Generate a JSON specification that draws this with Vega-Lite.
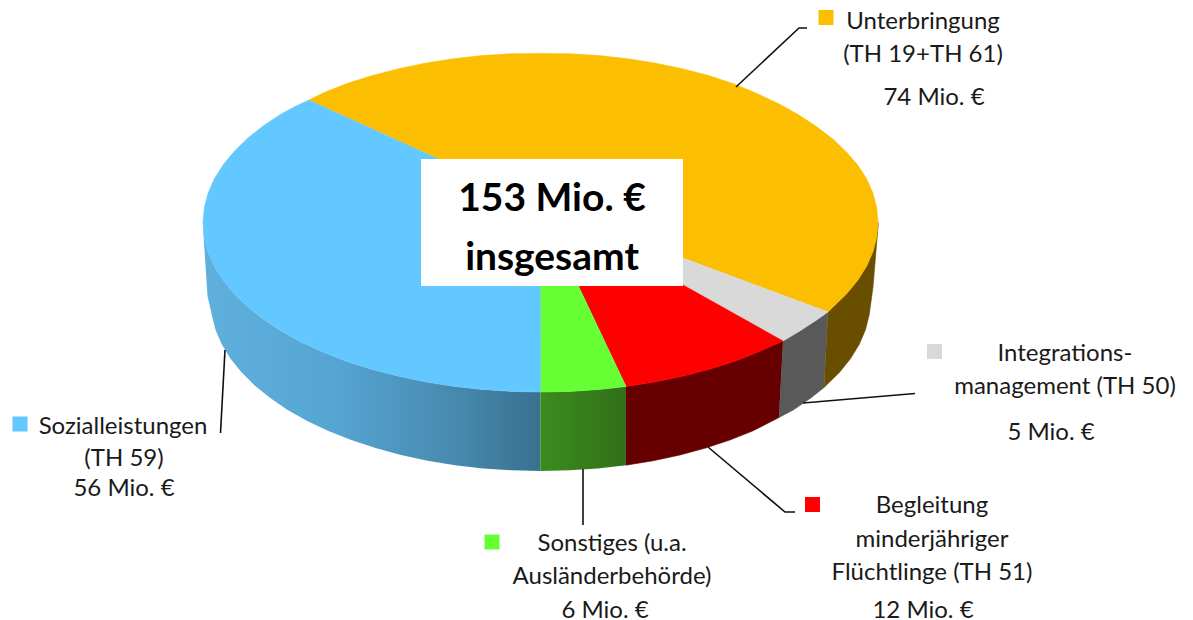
{"$schema":"https://vega.github.io/schema/vega-lite/v6.json","width":1193,"height":620,"padding":0,"autosize":{"type":"none"},"background":"white","config":{"view":{"stroke":null}},
"datasets":{"faces":[
{"face":"Soz Seite","x":540.5,"y":392},{"face":"Soz Seite","x":511.1,"y":391.4},{"face":"Soz Seite","x":481.9,"y":389.4},{"face":"Soz Seite","x":453.2,"y":386.2},{"face":"Soz Seite","x":425.1,"y":381.8},{"face":"Soz Seite","x":397.9,"y":376.1},{"face":"Soz Seite","x":371.7,"y":369.3},{"face":"Soz Seite","x":346.9,"y":361.4},{"face":"Soz Seite","x":323.6,"y":352.3},{"face":"Soz Seite","x":301.9,"y":342.4},{"face":"Soz Seite","x":282,"y":331.5},{"face":"Soz Seite","x":264,"y":319.7},{"face":"Soz Seite","x":248.2,"y":307.3},{"face":"Soz Seite","x":234.6,"y":294.1},{"face":"Soz Seite","x":223.4,"y":280.5},{"face":"Soz Seite","x":214.5,"y":266.4},{"face":"Soz Seite","x":208.1,"y":251.9},{"face":"Soz Seite","x":204.3,"y":237.3},{"face":"Soz Seite","x":203,"y":222.5},{"face":"Soz Seite","x":203,"y":227},{"face":"Soz Seite","x":207.5,"y":296},{"face":"Soz Seite","x":211.8,"y":314.9},{"face":"Soz Seite","x":215.5,"y":329.7},{"face":"Soz Seite","x":221.7,"y":344.3},{"face":"Soz Seite","x":230.4,"y":358.5},{"face":"Soz Seite","x":241.4,"y":372.3},{"face":"Soz Seite","x":254.7,"y":385.5},{"face":"Soz Seite","x":270.2,"y":398.1},{"face":"Soz Seite","x":287.7,"y":409.9},{"face":"Soz Seite","x":307.2,"y":420.9},{"face":"Soz Seite","x":328.4,"y":431},{"face":"Soz Seite","x":351.2,"y":440.1},{"face":"Soz Seite","x":375.5,"y":448.1},{"face":"Soz Seite","x":401,"y":455},{"face":"Soz Seite","x":427.6,"y":460.7},{"face":"Soz Seite","x":455.1,"y":465.2},{"face":"Soz Seite","x":483.2,"y":468.4},{"face":"Soz Seite","x":511.7,"y":470.3},{"face":"Soz Seite","x":540.5,"y":471},
{"face":"Son Seite","x":540.5,"y":392},{"face":"Son Seite","x":569.9,"y":391.4},{"face":"Son Seite","x":599.1,"y":389.4},{"face":"Son Seite","x":626,"y":386.5},{"face":"Son Seite","x":625.9,"y":465.2},{"face":"Son Seite","x":597.8,"y":468.4},{"face":"Son Seite","x":569.3,"y":470.3},{"face":"Son Seite","x":540.5,"y":471},
{"face":"Beg Seite","x":626,"y":386.5},{"face":"Beg Seite","x":655.9,"y":381.8},{"face":"Beg Seite","x":683.1,"y":376.1},{"face":"Beg Seite","x":709.3,"y":369.3},{"face":"Beg Seite","x":734.1,"y":361.4},{"face":"Beg Seite","x":757.4,"y":352.3},{"face":"Beg Seite","x":783,"y":341},{"face":"Beg Seite","x":779,"y":417.5},{"face":"Beg Seite","x":752.6,"y":431},{"face":"Beg Seite","x":729.8,"y":440.1},{"face":"Beg Seite","x":705.5,"y":448.1},{"face":"Beg Seite","x":680,"y":455},{"face":"Beg Seite","x":653.4,"y":460.7},{"face":"Beg Seite","x":625.9,"y":465.2},
{"face":"Int Seite","x":783,"y":341},{"face":"Int Seite","x":799,"y":331.5},{"face":"Int Seite","x":817,"y":319.7},{"face":"Int Seite","x":828,"y":312},{"face":"Int Seite","x":824,"y":387.5},{"face":"Int Seite","x":810.8,"y":398.1},{"face":"Int Seite","x":793.3,"y":409.9},{"face":"Int Seite","x":779,"y":417.5},
{"face":"Unt Seite","x":828,"y":312},{"face":"Unt Seite","x":832.8,"y":307.3},{"face":"Unt Seite","x":846.4,"y":294.1},{"face":"Unt Seite","x":857.6,"y":280.5},{"face":"Unt Seite","x":866.5,"y":266.4},{"face":"Unt Seite","x":872.9,"y":251.9},{"face":"Unt Seite","x":876.7,"y":237.3},{"face":"Unt Seite","x":878,"y":222.5},{"face":"Unt Seite","x":878,"y":227},{"face":"Unt Seite","x":873,"y":287},{"face":"Unt Seite","x":869.2,"y":314.9},{"face":"Unt Seite","x":865.5,"y":329.7},{"face":"Unt Seite","x":859.3,"y":344.3},{"face":"Unt Seite","x":850.6,"y":358.5},{"face":"Unt Seite","x":839.6,"y":372.3},{"face":"Unt Seite","x":824,"y":387.5},
{"face":"Unterbringung","x":540,"y":205},{"face":"Unterbringung","x":309,"y":100},{"face":"Unterbringung","x":323.6,"y":92.7},{"face":"Unterbringung","x":346.9,"y":83.6},{"face":"Unterbringung","x":371.7,"y":75.7},{"face":"Unterbringung","x":397.9,"y":68.9},{"face":"Unterbringung","x":425.1,"y":63.2},{"face":"Unterbringung","x":453.2,"y":58.8},{"face":"Unterbringung","x":481.9,"y":55.6},{"face":"Unterbringung","x":511.1,"y":53.8},{"face":"Unterbringung","x":540.5,"y":53.5},{"face":"Unterbringung","x":569.9,"y":53.8},{"face":"Unterbringung","x":599.1,"y":55.6},{"face":"Unterbringung","x":627.8,"y":58.8},{"face":"Unterbringung","x":655.9,"y":63.2},{"face":"Unterbringung","x":683.1,"y":68.9},{"face":"Unterbringung","x":709.3,"y":75.7},{"face":"Unterbringung","x":734.1,"y":84},{"face":"Unterbringung","x":757.4,"y":93.7},{"face":"Unterbringung","x":779.1,"y":104},{"face":"Unterbringung","x":799,"y":115},{"face":"Unterbringung","x":817,"y":127},{"face":"Unterbringung","x":832.8,"y":139},{"face":"Unterbringung","x":846.4,"y":151.9},{"face":"Unterbringung","x":857.6,"y":165},{"face":"Unterbringung","x":866.5,"y":178.6},{"face":"Unterbringung","x":872.9,"y":193.1},{"face":"Unterbringung","x":876.7,"y":207.7},{"face":"Unterbringung","x":878,"y":222.5},{"face":"Unterbringung","x":876.7,"y":237.3},{"face":"Unterbringung","x":872.9,"y":251.9},{"face":"Unterbringung","x":866.5,"y":266.4},{"face":"Unterbringung","x":857.6,"y":280.5},{"face":"Unterbringung","x":846.4,"y":294.1},{"face":"Unterbringung","x":832.8,"y":307.3},{"face":"Unterbringung","x":828,"y":312},
{"face":"Integration","x":540,"y":205},{"face":"Integration","x":828,"y":312},{"face":"Integration","x":817,"y":319.7},{"face":"Integration","x":799,"y":331.5},{"face":"Integration","x":783,"y":341},
{"face":"Begleitung","x":540,"y":205},{"face":"Begleitung","x":783,"y":341},{"face":"Begleitung","x":757.4,"y":352.3},{"face":"Begleitung","x":734.1,"y":361.4},{"face":"Begleitung","x":709.3,"y":369.3},{"face":"Begleitung","x":683.1,"y":376.1},{"face":"Begleitung","x":655.9,"y":381.8},{"face":"Begleitung","x":626,"y":386.5},
{"face":"Sonstiges","x":540,"y":205},{"face":"Sonstiges","x":626,"y":386.5},{"face":"Sonstiges","x":599.1,"y":389.4},{"face":"Sonstiges","x":569.9,"y":391.4},{"face":"Sonstiges","x":540.5,"y":392},
{"face":"Sozialleistungen","x":540,"y":205},{"face":"Sozialleistungen","x":540.5,"y":392},{"face":"Sozialleistungen","x":511.1,"y":391.4},{"face":"Sozialleistungen","x":481.9,"y":389.4},{"face":"Sozialleistungen","x":453.2,"y":386.2},{"face":"Sozialleistungen","x":425.1,"y":381.8},{"face":"Sozialleistungen","x":397.9,"y":376.1},{"face":"Sozialleistungen","x":371.7,"y":369.3},{"face":"Sozialleistungen","x":346.9,"y":361.4},{"face":"Sozialleistungen","x":323.6,"y":352.3},{"face":"Sozialleistungen","x":301.9,"y":342.4},{"face":"Sozialleistungen","x":282,"y":331.5},{"face":"Sozialleistungen","x":264,"y":319.7},{"face":"Sozialleistungen","x":248.2,"y":307.3},{"face":"Sozialleistungen","x":234.6,"y":294.1},{"face":"Sozialleistungen","x":223.4,"y":280.5},{"face":"Sozialleistungen","x":214.5,"y":266.4},{"face":"Sozialleistungen","x":208.1,"y":251.9},{"face":"Sozialleistungen","x":204.3,"y":237.3},{"face":"Sozialleistungen","x":203,"y":222.5},{"face":"Sozialleistungen","x":204.3,"y":207.7},{"face":"Sozialleistungen","x":208.1,"y":193.1},{"face":"Sozialleistungen","x":214.5,"y":178.6},{"face":"Sozialleistungen","x":223.4,"y":164.5},{"face":"Sozialleistungen","x":234.6,"y":150.9},{"face":"Sozialleistungen","x":248.2,"y":137.7},{"face":"Sozialleistungen","x":264,"y":125.3},{"face":"Sozialleistungen","x":282,"y":113.5},{"face":"Sozialleistungen","x":295,"y":106.5},{"face":"Sozialleistungen","x":309,"y":100}
],
"leaders":[
{"slice":"Unterbringung","x":736,"y":87},{"slice":"Unterbringung","x":799,"y":28},{"slice":"Unterbringung","x":807,"y":28},
{"slice":"Integration","x":803,"y":403},{"slice":"Integration","x":915,"y":393.5},
{"slice":"Begleitung","x":708,"y":447},{"slice":"Begleitung","x":785,"y":512},{"slice":"Begleitung","x":795,"y":512},
{"slice":"Sonstiges","x":583,"y":469},{"slice":"Sonstiges","x":583,"y":525},
{"slice":"Sozialleistungen","x":225,"y":350},{"slice":"Sozialleistungen","x":220.5,"y":433}
],
"squares":[
{"face":"Unterbringung","value":74,"x":826,"y":17.5},{"face":"Integration","value":5,"x":934.5,"y":351.5},{"face":"Begleitung","value":12,"x":812.5,"y":504.5},{"face":"Sonstiges","value":6,"x":492,"y":542},{"face":"Sozialleistungen","value":56,"x":20,"y":424}
],
"labels":[
{"t":"Unterbringung","x":923,"y":22},{"t":"(TH 19+TH 61)","x":923,"y":55},{"t":"74 Mio. €","x":934,"y":98},
{"t":"Integrations-","x":1065,"y":354},{"t":"management (TH 50)","x":1065,"y":387},{"t":"5 Mio. €","x":1051,"y":433},
{"t":"Begleitung","x":932,"y":506},{"t":"minderjähriger","x":932,"y":540},{"t":"Flüchtlinge (TH 51)","x":932,"y":573},{"t":"12 Mio. €","x":923,"y":611},
{"t":"Sonstiges (u.a.","x":612,"y":544},{"t":"Ausländerbehörde)","x":612,"y":577},{"t":"6 Mio. €","x":605,"y":611},
{"t":"Sozialleistungen","x":123,"y":427},{"t":"(TH 59)","x":124,"y":459},{"t":"56 Mio. €","x":124,"y":489}
]},
"data":{"name":"faces"},
"encoding":{"x":{"field":"x","type":"quantitative","scale":{"domain":[0,1193]},"axis":null},"y":{"field":"y","type":"quantitative","scale":{"domain":[620,0]},"axis":null}},
"layer":[
{"transform":[{"filter":"datum.face=='Soz Seite'"}],"mark":{"type":"line","filled":true,"strokeWidth":0,"fill":{"x1":0,"y1":0,"x2":1,"y2":0,"gradient":"linear","stops":[{"offset":0,"color":"#60b0de"},{"offset":0.4,"color":"#55a5d2"},{"offset":0.75,"color":"#4789ae"},{"offset":1,"color":"#39708f"}]}},"encoding":{"order":{"value":null}}},
{"transform":[{"filter":"datum.face=='Son Seite'"}],"mark":{"type":"line","filled":true,"strokeWidth":0,"fill":{"x1":0,"y1":0,"x2":1,"y2":0,"gradient":"linear","stops":[{"offset":0,"color":"#3a8c1e"},{"offset":1,"color":"#32701a"}]}},"encoding":{"order":{"value":null}}},
{"transform":[{"filter":"indexof(['Soz Seite','Son Seite'],datum.face)<0"}],"mark":{"type":"line","filled":true,"strokeWidth":0.6},"encoding":{"order":{"value":null},
"fill":{"field":"face","type":"nominal","legend":null,"scale":{"domain":["Unterbringung","Integration","Begleitung","Sonstiges","Sozialleistungen","Unt Seite","Int Seite","Beg Seite"],"range":["#fbbe00","#d9d9d9","#ff0000","#66ff33","#63c8ff","#6a4e00","#595959","#660000"]}},
"stroke":{"field":"face","type":"nominal","legend":null,"scale":{"domain":["Unterbringung","Integration","Begleitung","Sonstiges","Sozialleistungen","Unt Seite","Int Seite","Beg Seite"],"range":["#fbbe00","#d9d9d9","#ff0000","#66ff33","#63c8ff","#6a4e00","#595959","#660000"]}}}},
{"data":{"name":"leaders"},"mark":{"type":"line","color":"#111111","strokeWidth":1.6},"encoding":{"detail":{"field":"slice"},"order":{"value":null}}},
{"data":{"values":[{"x":421,"x2":683,"y":159,"y2":286}]},"mark":{"type":"rect","color":"white"},"encoding":{"x2":{"field":"x2"},"y2":{"field":"y2"}}},
{"data":{"values":[{"t":"153 Mio. €","x":552,"y":199},{"t":"insgesamt","x":552,"y":258}]},"mark":{"type":"text","font":"Lato","fontSize":39,"fontWeight":"bold","color":"#000000","align":"center","baseline":"middle"},"encoding":{"text":{"field":"t"}}},
{"data":{"name":"labels"},"mark":{"type":"text","font":"Lato","fontSize":24,"color":"#1a1a1a","align":"center","baseline":"middle"},"encoding":{"text":{"field":"t"}}},
{"data":{"name":"squares"},"mark":{"type":"point","shape":"square","filled":true,"size":225,"opacity":1,"strokeWidth":0},"encoding":{"fill":{"field":"face","type":"nominal","legend":null,"scale":{"domain":["Unterbringung","Integration","Begleitung","Sonstiges","Sozialleistungen","Unt Seite","Int Seite","Beg Seite"],"range":["#fbbe00","#d9d9d9","#ff0000","#66ff33","#63c8ff","#6a4e00","#595959","#660000"]}}}}
]}
